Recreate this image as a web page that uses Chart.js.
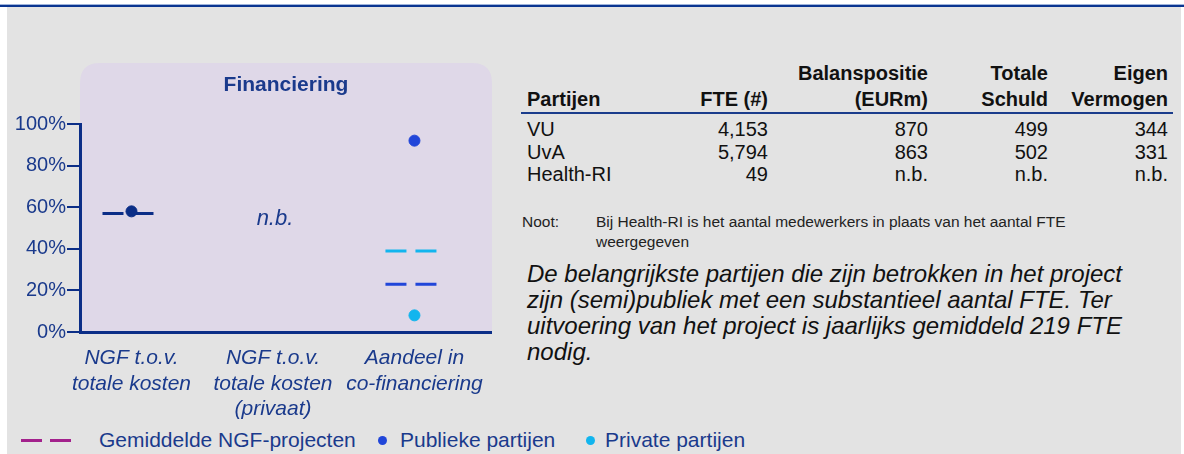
<!DOCTYPE html>
<html>
<head>
<meta charset="utf-8">
<script src="https://cdn.jsdelivr.net/npm/chart.js@4"></script>
<style>
  html, body { margin: 0; padding: 0; background: #fff; }
  body { width: 1184px; height: 454px; position: relative; overflow: hidden; font-family: "Liberation Sans", Arial, sans-serif; }
  .topline { position: absolute; left: 0; top: 4px; width: 1184px; height: 1px; background: #9fb4dc; }
  .topline2 { position: absolute; left: 0; top: 5px; width: 1184px; height: 2px; background: #0a3590; }
  .sheet { position: absolute; left: 7px; top: 7px; width: 1174px; height: 447px; background: #e3e3e3; }
  #chartBox { position: absolute; left: 0; top: 0; width: 500px; height: 420px; }
  table.parties { position: absolute; left: 521px; top: 60px; border-collapse: collapse; color: #111; font-size: 20px; }
  table.parties th { font-weight: bold; line-height: 26px; padding: 0; vertical-align: bottom; text-align: right; border-bottom: 2px solid #1a3c8c; box-shadow: 0 1px 0 #93a6d2; }
  table.parties td { line-height: 22.5px; padding: 0; text-align: right; }
  table.parties tbody tr:first-child td { padding-top: 4px; }
  table.parties th:first-child, table.parties td:first-child { text-align: left; padding-left: 6px; }
  table.parties th:last-child, table.parties td:last-child { padding-right: 5px; }
  .note { position: absolute; left: 522px; top: 212px; font-size: 15.5px; line-height: 20px; color: #222; }
  .note span { position: absolute; left: 74px; top: 0; white-space: nowrap; }
  .summary { position: absolute; left: 527px; top: 261px; font-size: 24px; line-height: 26px; font-style: italic; color: #111; white-space: nowrap; }
  .legend { position: absolute; left: 0; top: 428px; height: 24px; width: 1184px; font-size: 21px; color: #1a3a8c; }
  .legend .item { position: absolute; top: 0; line-height: 24px; white-space: nowrap; }
  .legend .dash { position: absolute; top: 11px; width: 21px; height: 3px; background: #a3218c; }
  .legend .dot { position: absolute; top: 8px; width: 9px; height: 9px; border-radius: 50%; }
</style>
</head>
<body>
<div class="topline"></div>
<div class="topline2"></div>
<div class="sheet"></div>
<div id="chartBox"><canvas id="finChart"></canvas></div>

<table class="parties" id="partiesTable">
  <colgroup>
    <col style="width:170px"><col style="width:77px"><col style="width:160px"><col style="width:120px"><col style="width:125px">
  </colgroup>
  <thead>
    <tr>
      <th>Partijen</th>
      <th>FTE (#)</th>
      <th>Balanspositie<br>(EURm)</th>
      <th>Totale<br>Schuld</th>
      <th>Eigen<br>Vermogen</th>
    </tr>
  </thead>
  <tbody id="partiesBody"></tbody>
</table>

<div class="note">Noot:<span>Bij Health-RI is het aantal medewerkers in plaats van het aantal FTE<br>weergegeven</span></div>

<div class="summary">De belangrijkste partijen die zijn betrokken in het project<br>zijn (semi)publiek met een substantieel aantal FTE. Ter<br>uitvoering van het project is jaarlijks gemiddeld 219 FTE<br>nodig.</div>

<div class="legend">
  <div class="dash" style="left:21px"></div>
  <div class="dash" style="left:50px"></div>
  <div class="item" style="left:99px">Gemiddelde NGF-projecten</div>
  <div class="dot" style="left:378px; background:#2146d9"></div>
  <div class="item" style="left:400px">Publieke partijen</div>
  <div class="dot" style="left:586px; background:#12b5ee"></div>
  <div class="item" style="left:605px">Private partijen</div>
</div>

<script>
// chart data
const categories = [
  ['NGF t.o.v.', 'totale kosten'],
  ['NGF t.o.v.', 'totale kosten', '(privaat)'],
  ['Aandeel in', 'co-financiering']
];
const projectShare = [58, null, null];   // project itself
const publiekShare = [null, null, 92];   // publieke partijen
const privaatShare = [null, null, 8];    // private partijen
const avgNgf = [57, null, null];         // gemiddelde NGF-projecten
const avgPubliek = [null, null, 23];
const avgPrivaat = [null, null, 39];
const notAvailable = [false, true, false];
const yTickValues = [0, 20, 40, 60, 80, 100];

// table data
const parties = ['VU', 'UvA', 'Health-RI'];
const fte = ['4,153', '5,794', '49'];
const balans = ['870', '863', 'n.b.'];
const schuld = ['499', '502', 'n.b.'];
const vermogen = ['344', '331', 'n.b.'];

const NAVY = '#0b2e87';
const TEXT_BLUE = '#1a3a8c';
const BLUE = '#2146d9';
const CYAN = '#12b5ee';
const FONT = '"Liberation Sans", Arial, sans-serif';
const HALF = 0.205;

const body = document.getElementById('partiesBody');
parties.forEach((name, i) => {
  const tr = document.createElement('tr');
  [name, fte[i], balans[i], schuld[i], vermogen[i]].forEach(text => {
    const td = document.createElement('td');
    td.textContent = text;
    tr.appendChild(td);
  });
  body.appendChild(tr);
});

function dotPoints(values) {
  return values.map((v, i) => (v == null ? null : { x: i, y: v })).filter(Boolean);
}

function dashPoints(values) {
  const pts = [];
  values.forEach((v, i) => {
    if (v == null) return;
    pts.push({ x: i - HALF, y: v }, { x: i + HALF, y: v });
  });
  return pts;
}

function dotSet(values, color) {
  return {
    data: dotPoints(values),
    backgroundColor: color,
    borderColor: color,
    pointRadius: 5.5,
    pointHoverRadius: 5.5,
    showLine: false,
    clip: false
  };
}

function dashSet(values, color) {
  return {
    data: dashPoints(values),
    borderColor: color,
    borderWidth: 3,
    borderDash: [21, 9],
    pointRadius: 0,
    showLine: true,
    fill: false,
    clip: false
  };
}

const panelPlugin = {
  id: 'panel',
  beforeDraw(chart) {
    const { ctx, chartArea } = chart;
    const left = chartArea.left;
    const right = chartArea.right + 1;
    const top = chartArea.top - 61;
    const bottom = chartArea.bottom;
    const r = 20;
    ctx.save();
    ctx.fillStyle = '#dfd8e8';
    ctx.beginPath();
    ctx.moveTo(left, bottom);
    ctx.lineTo(left, top + r);
    ctx.quadraticCurveTo(left, top, left + r, top);
    ctx.lineTo(right - r, top);
    ctx.quadraticCurveTo(right, top, right, top + r);
    ctx.lineTo(right, bottom);
    ctx.closePath();
    ctx.fill();

    ctx.fillStyle = TEXT_BLUE;
    ctx.font = 'bold 21px ' + FONT;
    ctx.textAlign = 'center';
    ctx.textBaseline = 'middle';
    ctx.fillText('Financiering', (left + right) / 2, top + 22);
    ctx.restore();
  },
  afterDatasetsDraw(chart) {
    const { ctx, scales } = chart;
    ctx.save();
    ctx.fillStyle = TEXT_BLUE;
    ctx.font = 'italic 22px ' + FONT;
    ctx.textAlign = 'center';
    ctx.textBaseline = 'middle';
    notAvailable.forEach((na, i) => {
      if (!na) return;
      ctx.fillText('n.b.', scales.x.getPixelForValue(i) + 2, scales.y.getPixelForValue(54.5));
    });
    ctx.restore();
  }
};

new Chart(document.getElementById('finChart'), {
  type: 'scatter',
  data: {
    datasets: [
      dotSet(projectShare, NAVY),
      dotSet(publiekShare, BLUE),
      dotSet(privaatShare, CYAN),
      dashSet(avgNgf, NAVY),
      dashSet(avgPubliek, BLUE),
      dashSet(avgPrivaat, CYAN)
    ]
  },
  options: {
    responsive: true,
    maintainAspectRatio: false,
    animation: false,
    layout: { padding: { top: 124, right: 9, left: 0, bottom: 0 } },
    plugins: {
      legend: { display: false },
      tooltip: { enabled: false }
    },
    scales: {
      x: {
        type: 'linear',
        min: -0.364,
        max: 2.541,
        afterBuildTicks(scale) {
          scale.ticks = categories.map((c, i) => ({ value: i }));
        },
        afterFit(scale) { scale.height = 88; },
        grid: { display: false, drawTicks: false },
        border: { display: true, color: NAVY, width: 3 },
        ticks: {
          autoSkip: false,
          maxRotation: 0,
          padding: 14,
          color: TEXT_BLUE,
          font: { family: FONT, size: 21, style: 'italic', lineHeight: 1.2 },
          callback: value => categories[value]
        }
      },
      y: {
        min: 0,
        max: 100,
        afterFit(scale) { scale.width = 80; },
        grid: { display: true, drawOnChartArea: false, drawTicks: true, tickLength: 13, color: NAVY, lineWidth: 2 },
        border: { display: true, color: NAVY, width: 3 },
        ticks: {
          stepSize: 10,
          padding: 1,
          color: TEXT_BLUE,
          font: { family: FONT, size: 20 },
          callback: value => (yTickValues.includes(value) ? value + '%' : '')
        }
      }
    }
  },
  plugins: [panelPlugin]
});
</script>
</body>
</html>
